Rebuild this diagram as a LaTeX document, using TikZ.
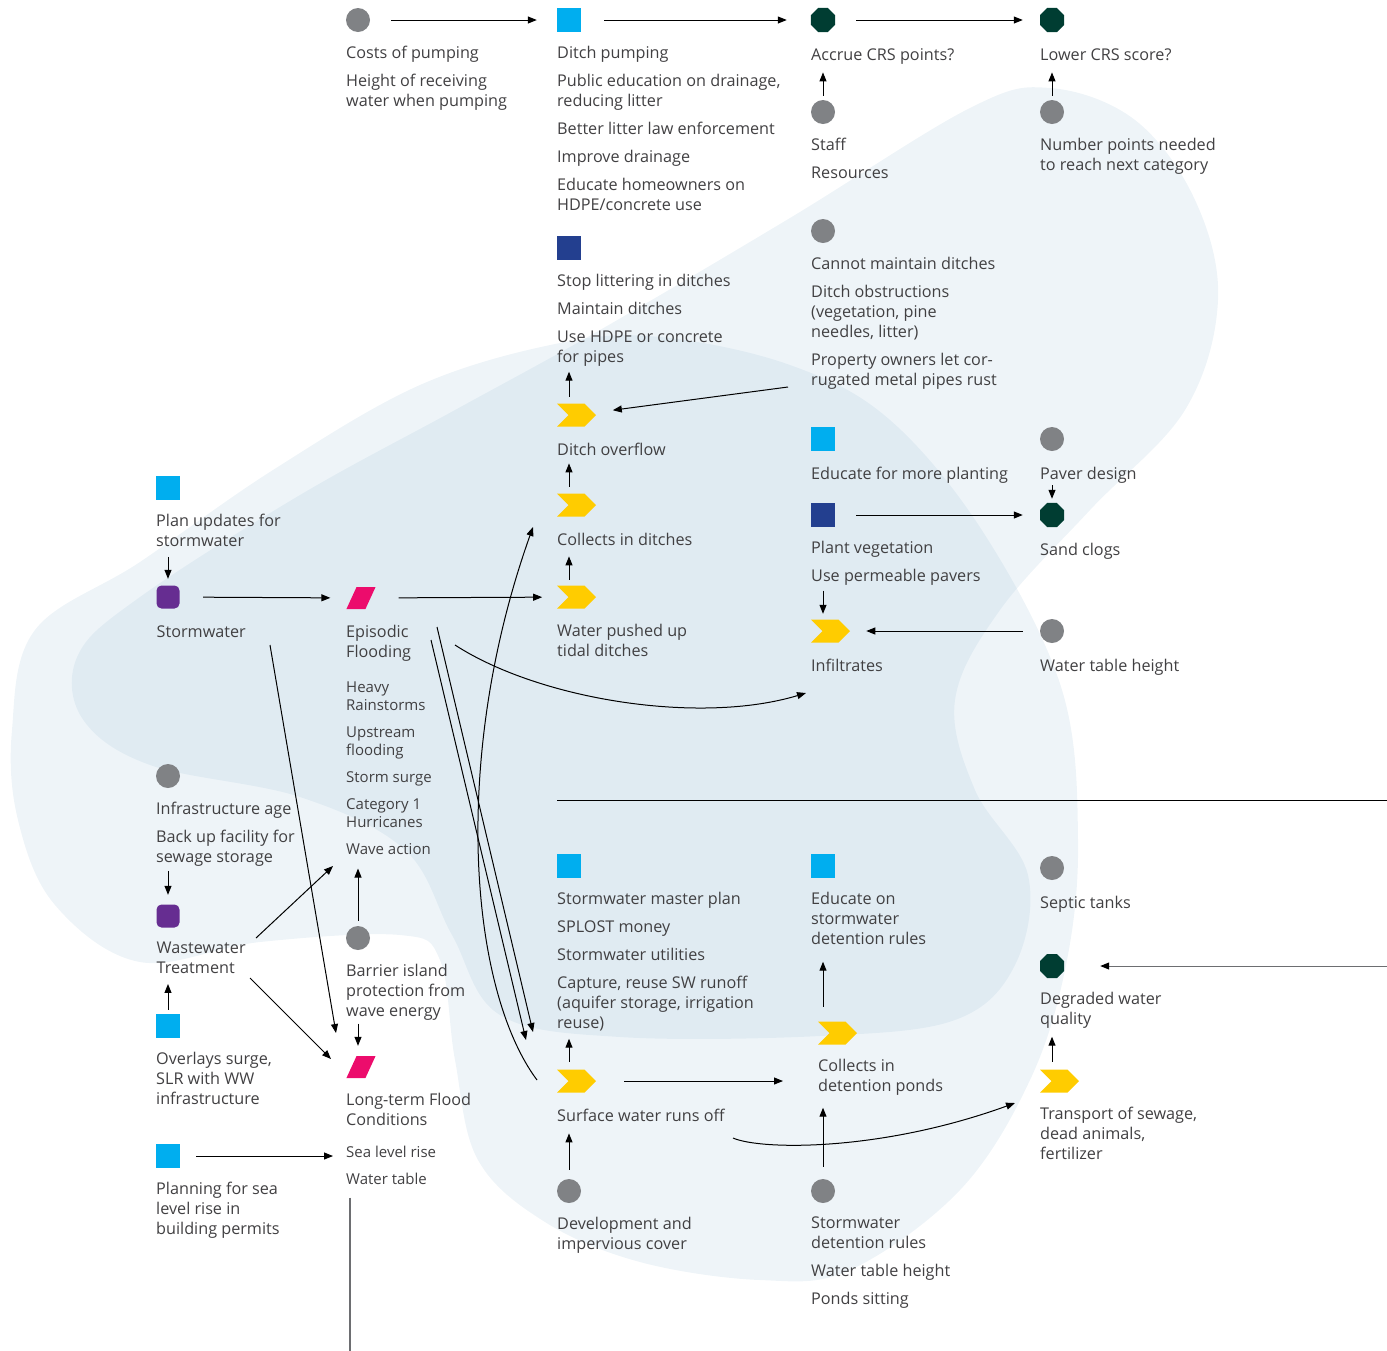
\documentclass[tikz,border=0pt]{standalone}
\usepackage{fontspec}
\setmainfont{Open Sans}
\usepackage{tikz}
\usetikzlibrary{positioning, arrows.meta, calc, shapes.geometric, shapes.symbols}

\definecolor{txtgray}{RGB}{65,64,66}
\definecolor{dotgray}{RGB}{128,130,133}
\definecolor{levercyan}{RGB}{0,174,239}
\definecolor{actionnavy}{RGB}{35,63,143}
\definecolor{impactgreen}{RGB}{0,61,50}
\definecolor{sysviolet}{RGB}{102,45,145}
\definecolor{hazardpink}{RGB}{236,12,108}
\definecolor{procyellow}{RGB}{255,204,0}
\definecolor{blobblue}{RGB}{161,194,216}
\definecolor{linegray}{RGB}{109,110,113}

\tikzset{
	lbl/.style={anchor=north west, inner sep=0pt, align=left, text=txtgray,
		font=\fontsize{16.2}{20}\selectfont,
		execute at begin node=\strut, execute at end node=\strut},
	sublbl/.style={lbl, font=\fontsize{15}{18}\selectfont},
	driver/.style={circle, fill=dotgray, minimum size=24pt, inner sep=0pt},
	lever/.style={rectangle, fill=levercyan, minimum size=24pt, inner sep=0pt},
	action/.style={rectangle, fill=actionnavy, minimum size=24pt, inner sep=0pt},
	impact/.style={regular polygon, regular polygon sides=8, fill=impactgreen,
		minimum size=26pt, inner sep=0pt},
	system/.style={rectangle, rounded corners=5pt, fill=sysviolet, minimum size=23pt, inner sep=0pt},
	hazard/.style={rectangle, xslant=0.46, fill=hazardpink, minimum width=19pt,
		minimum height=22pt, inner sep=0pt},
	process/.style={signal, signal from=west, signal to=east, fill=procyellow,
		minimum height=23pt, minimum width=39pt, inner sep=0pt},
	link/.style={-{Triangle[length=9pt,width=7pt]}, line width=1pt, draw=black},
	gap/.style 2 args={shorten <=#1, shorten >=#2},
	blob/.style={fill=blobblue, fill opacity=0.18},
}

\begin{document}
\begin{tikzpicture}[x=1pt, y=-1pt]
	
	\useasboundingbox (0,0) rectangle (1387,1350);
	
	% Background
	\fill[blob] plot[smooth cycle, tension=0.6] coordinates {(1050,88) (1135,120) (1195,200) (1218,300) (1185,410) (1090,510) (1000,610) (955,700) (975,790) (1028,875) (1015,965) (955,1020) (820,1036) (620,1037) (500,1015) (452,935) (405,850) (300,797) (150,765) (82,718) (78,655) (140,597) (300,495) (455,410) (600,330) (790,218) (970,108)};
	
	\fill[blob] plot[smooth cycle, tension=0.6] coordinates {(12,730) (35,630) (140,562) (273,470) (420,385) (560,343) (660,337) (790,365) (890,420) (985,535) (1062,690) (1078,840) (1066,965) (1030,1080) (960,1190) (850,1270) (760,1280) (640,1262) (545,1222) (478,1160) (455,1060) (440,960) (400,935) (260,942) (140,962) (55,905) (18,820)};
	
	% Top row
	\node[driver] (pumpcost) at (358,20) {};
	\node[lbl] (pumpcosttxt) at ($(pumpcost)+(-12,26)$) {Costs of pumping\\[8pt]Height of receiving\\water when pumping};
	
	\node[lever] (pumping) at (569,20) {};
	\node[lbl] (pumpingtxt) at ($(pumping)+(-12,26)$) {Ditch pumping\\[8pt]Public education on drainage,\\reducing litter\\[8pt]Better litter law enforcement\\[8pt]Improve drainage\\[8pt]Educate homeowners on\\HDPE/concrete use};
	
	\node[impact] (crspts) at (823,20) {};
	\node[lbl] (crsptstxt) at ($(crspts)+(-12,26)$) {Accrue CRS points?};
	
	\node[impact] (crsscore) at (1052,20) {};
	\node[lbl] (crsscoretxt) at ($(crsscore)+(-12,26)$) {Lower CRS score?};
	
	\node[driver] (staff) at (823,112) {};
	\node[lbl] (stafftxt) at ($(staff)+(-12,26)$) {Staff\\[8pt]Resources};
	
	\node[driver] (ptsneeded) at (1052,112) {};
	\node[lbl] (ptsneededtxt) at ($(ptsneeded)+(-12,26)$) {Number points needed\\to reach next category};
	
	% Ditches
	\node[action] (littering) at (569,248) {};
	\node[lbl] (litteringtxt) at ($(littering)+(-12,26)$) {Stop littering in ditches\\[8pt]Maintain ditches\\[8pt]Use HDPE or concrete\\for pipes};
	
	\node[driver] (cannotmaint) at (823,231) {};
	\node[lbl] (cannotmainttxt) at ($(cannotmaint)+(-12,26)$) {Cannot maintain ditches\\[8pt]Ditch obstructions\\(vegetation, pine\\needles, litter)\\[8pt]Property owners let cor-\\rugated metal pipes rust};
	
	\node[process] (ditchover) at (576.5,415) {};
	\node[lbl] (ditchovertxt) at ($(ditchover)+(-19.5,26)$) {Ditch overflow};
	
	\node[process] (ditchcoll) at (576.5,505) {};
	\node[lbl] (ditchcolltxt) at ($(ditchcoll)+(-19.5,26)$) {Collects in ditches};
	
	\node[process] (tidal) at (576.5,597) {};
	\node[lbl] (tidaltxt) at ($(tidal)+(-19.5,27)$) {Water pushed up\\tidal ditches};
	
	% Planting
	\node[lever] (eduplant) at (823,439) {};
	\node[lbl] (eduplanttxt) at ($(eduplant)+(-12,26)$) {Educate for more planting};
	
	\node[driver] (paver) at (1052,439) {};
	\node[lbl] (pavertxt) at ($(paver)+(-12,26)$) {Paver design};
	
	\node[action] (plantveg) at (823,515) {};
	\node[lbl] (plantvegtxt) at ($(plantveg)+(-12,26)$) {Plant vegetation\\[8pt]Use permeable pavers};
	
	\node[impact] (sandclog) at (1052,515) {};
	\node[lbl] (sandclogtxt) at ($(sandclog)+(-12,26)$) {Sand clogs};
	
	\node[process] (infiltr) at (830.5,631) {};
	\node[lbl] (infiltrtxt) at ($(infiltr)+(-19.5,26)$) {Infiltrates};
	
	\node[driver] (wtable) at (1052,631) {};
	\node[lbl] (wtabletxt) at ($(wtable)+(-12,26)$) {Water table height};
	
	% Left side
	\node[lever] (planupd) at (168,488) {};
	\node[lbl] (planupdtxt) at ($(planupd)+(-12,26)$) {Plan updates for\\stormwater};
	
	\node[system] (storm) at (168,597) {};
	\node[lbl] (stormtxt) at ($(storm)+(-11.5,26)$) {Stormwater};
	
	\node[hazard] (episodic) at (361,598) {};
	\node[lbl] (episodictxt) at ($(episodic)+(-15,27)$) {Episodic\\Flooding};
	\node[sublbl] (episub) at ($(episodic)+(-15,83.4)$) {Heavy\\Rainstorms\\[9pt]Upstream\\flooding\\[9pt]Storm surge\\[9pt]Category 1\\Hurricanes\\[9pt]Wave action};
	
	\node[driver] (infra) at (168,776) {};
	\node[lbl] (infratxt) at ($(infra)+(-12,26)$) {Infrastructure age\\[8pt]Back up facility for\\sewage storage};
	
	\node[system] (wastew) at (168,916) {};
	\node[lbl] (wastewtxt) at ($(wastew)+(-11.5,26)$) {Wastewater\\Treatment};
	
	\node[lever] (overlays) at (168,1026) {};
	\node[lbl] (overlaystxt) at ($(overlays)+(-12,26)$) {Overlays surge,\\SLR with WW\\infrastructure};
	
	\node[driver] (barrier) at (358,938) {};
	\node[lbl] (barriertxt) at ($(barrier)+(-12,26)$) {Barrier island\\protection from\\wave energy};
	
	\node[hazard] (longterm) at (361,1067) {};
	\node[lbl] (longtermtxt) at ($(longterm)+(-15,26)$) {Long-term Flood\\Conditions};
	\node[sublbl] (ltsub) at ($(longterm)+(-15,78.4)$) {Sea level rise\\[9pt]Water table};
	
	\node[lever] (planslr) at (168,1156) {};
	\node[lbl] (planslrtxt) at ($(planslr)+(-12,26)$) {Planning for sea\\level rise in\\building permits};
	
	% Lower part
	\node[lever] (masterplan) at (569,866) {};
	\node[lbl] (masterplantxt) at ($(masterplan)+(-12,26)$) {Stormwater master plan\\[8pt]SPLOST money\\[8pt]Stormwater utilities\\[8pt]Capture, reuse SW runoff\\(aquifer storage, irrigation\\reuse)};
	
	\node[process] (runoff) at (576.5,1081) {};
	\node[lbl] (runofftxt) at ($(runoff)+(-19.5,26)$) {Surface water runs off};
	
	\node[driver] (develop) at (569,1191) {};
	\node[lbl] (developtxt) at ($(develop)+(-12,26)$) {Development and\\impervious cover};
	
	\node[lever] (edudet) at (823,866) {};
	\node[lbl] (edudettxt) at ($(edudet)+(-12,26)$) {Educate on\\stormwater\\detention rules};
	
	\node[process] (pondcoll) at (837.5,1033) {};
	\node[lbl] (pondcolltxt) at ($(pondcoll)+(-19.5,26)$) {Collects in\\detention ponds};
	
	\node[driver] (detrules) at (823,1191) {};
	\node[lbl] (detrulestxt) at ($(detrules)+(-12,26)$) {Stormwater\\detention rules\\[8pt]Water table height\\[8pt]Ponds sitting};
	
	\node[driver] (septic) at (1052,868) {};
	\node[lbl] (septictxt) at ($(septic)+(-12,26)$) {Septic tanks};
	
	\node[impact] (degraded) at (1052,966) {};
	\node[lbl] (degradedtxt) at ($(degraded)+(-12,26)$) {Degraded water\\quality};
	
	\node[process] (transport) at (1059.5,1081) {};
	\node[lbl] (transporttxt) at ($(transport)+(-19.5,26)$) {Transport of sewage,\\dead animals,\\fertilizer};
	
	% Free ends
	\coordinate (rust) at (788,387);
	\coordinate (epiout) at (455,645);
	\coordinate (infin) at (806,693);
	\coordinate (epiA) at (437,627);
	\coordinate (epiB) at (431,640);
	\coordinate (runA) at (533,1032);
	\coordinate (runB) at (526,1040);
	\coordinate (runout) at (537,1080);
	\coordinate (collin) at (533,527);
	\coordinate (stormout) at (270,645);
	\coordinate (ltin) at (336,1033);
	\coordinate (wwup) at (256,938);
	\coordinate (wavein) at (333,866);
	\coordinate (wwdown) at (250,978);
	\coordinate (ltin2) at (331,1059);
	\coordinate (runout2) at (733,1138);
	\coordinate (transin) at (1015,1103);
	\coordinate (offright) at (1387,966);
	\coordinate (wtbottom) at (350,1352);
	\coordinate (divleft) at (557,800);
	\coordinate (divright) at (1387,800);
	
	% Connections
	\draw[link, gap={21pt}{20pt}] (pumpcost) -- (pumping);
	\draw[link, gap={23pt}{24pt}] (pumping) -- (crspts);
	\draw[link, gap={21pt}{17pt}] (crspts) -- (crsscore);
	\draw[link, gap={4pt}{6pt}] (staff) -- (staff |- crsptstxt.south);
	\draw[link, gap={4pt}{6pt}] (ptsneeded) -- (ptsneeded |- crsscoretxt.south);
	
	\draw[link, gap={6.5pt}{3pt}] (littering |- ditchover.north) -- (littering |- litteringtxt.south);
	\draw[link, gap={6.5pt}{2pt}] (littering |- ditchcoll.north) -- (littering |- ditchovertxt.south);
	\draw[link, gap={5.5pt}{5pt}] (littering |- tidal.north) -- (littering |- ditchcolltxt.south);
	\draw[link, shorten >=19pt] (rust) -- (ditchover);
	
	\draw[link, gap={4pt}{6.5pt}] (storm |- planupdtxt.south) -- (storm);
	\draw[link, gap={23.5pt}{21pt}] (storm) -- (episodic);
	\draw[link, gap={28pt}{26pt}] (episodic) -- (tidal);
	
	\draw[link, gap={3pt}{5.5pt}] (plantveg |- plantvegtxt.south) -- (plantveg |- infiltr.north);
	\draw[link, gap={21pt}{17pt}] (plantveg) -- (sandclog);
	\draw[link, gap={0pt}{4pt}] (paver |- pavertxt.south) -- (sandclog);
	\draw[link, gap={17pt}{16pt}] (wtable) -- (infiltr);
	
	\draw[link] (epiout) .. controls (540,700) and (700,725) .. (infin);
	\draw[link] (epiA) -- (runA);
	\draw[link] (epiB) -- (runB);
	\draw[link] (runout) .. controls (470,990) and (450,760) .. (collin);
	\draw[link] (stormout) -- (ltin);
	
	\draw[link, gap={2pt}{9.5pt}] (infra |- infratxt.south) -- (wastew);
	\draw[link, gap={4pt}{4pt}] (overlays) -- (overlays |- wastewtxt.south);
	\draw[link] (wwup) -- (wavein);
	\draw[link] (wwdown) -- (ltin2);
	\draw[link, gap={5pt}{8.6pt}] (barrier) -- (barrier |- episub.south);
	\draw[link, gap={1pt}{10pt}] (barrier |- barriertxt.south) -- (barrier |- longterm.north);
	\draw[link, gap={16pt}{13pt}] (planslr) -- (planslr -| ltsub.west);
	\draw[draw=linegray, line width=1.2pt] ($(ltsub.south west -| wtbottom)+(0,8)$) -- (wtbottom);
	
	\draw[line width=1pt] (divleft) -- (divright);
	
	\draw[link, gap={7.5pt}{4pt}] (masterplan |- runoff.north) -- (masterplan |- masterplantxt.south);
	\draw[link, gap={28pt}{35pt}] (runoff) -- (runoff -| pondcolltxt.west);
	\draw[link, gap={9pt}{6pt}] (develop) -- (develop |- runofftxt.south);
	\draw[link, gap={14.5pt}{11pt}] (edudet |- pondcoll.north) -- (edudet |- edudettxt.south);
	\draw[link, gap={12pt}{10pt}] (detrules) -- (detrules |- pondcolltxt.south);
	\draw[link] (runout2) .. controls (760,1150) and (880,1152) .. (transin);
	\draw[link, draw=linegray, -{Triangle[length=9pt,width=7pt,color=black]}, shorten >=36pt] (offright) -- (degraded);
	\draw[link, gap={7.5pt}{6pt}] (degraded |- transport.north) -- (degraded |- degradedtxt.south);
	
\end{tikzpicture}
\end{document}
